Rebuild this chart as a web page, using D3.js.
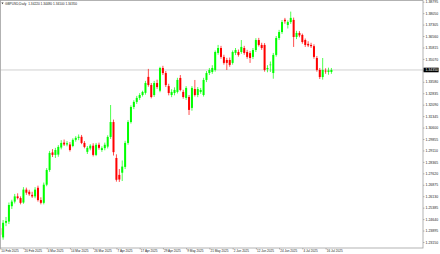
<!DOCTYPE html>
<html>
<head>
<meta charset="utf-8">
<script src="https://cdn.jsdelivr.net/npm/d3@7"></script>
<style>
  body { margin: 0; background: #fff; }
  svg { display: block; font-family: "Liberation Sans", Arial, sans-serif; }
</style>
</head>
<body>
<svg id="chart" width="440" height="254"></svg>
<script>
"use strict";

const SYMBOL = "GBPUSD,Daily";
const FIRST_DAY = "2025-02-10";
const LAST_DAY = "2025-07-18";

const opens = [1.2405, 1.2345, 1.2440, 1.2448, 1.2548, 1.2578, 1.2612, 1.2601, 1.2572, 1.2656,
    1.2642, 1.2622, 1.2612, 1.2668, 1.2588, 1.2570, 1.2688, 1.2784, 1.2898, 1.2882,
    1.2884, 1.2930, 1.2962, 1.2950, 1.2950, 1.2940, 1.2980, 1.2993, 1.3000, 1.2960,
    1.2902, 1.2924, 1.2942, 1.2882, 1.2948, 1.2914, 1.2926, 1.2936, 1.2999, 1.3096,
    1.2862, 1.2752, 1.2766, 1.2804, 1.2960, 1.3096, 1.3194, 1.3227, 1.3253, 1.3272,
    1.3286, 1.3390, 1.3337, 1.3272, 1.3350, 1.3300, 1.3448, 1.3415, 1.3330, 1.3272,
    1.3285, 1.3292, 1.3383, 1.3292, 1.3253, 1.3259, 1.3188, 1.3311, 1.3272, 1.3292,
    1.3272, 1.3370, 1.3415, 1.3422, 1.3435, 1.3546, 1.3578, 1.3520, 1.3500, 1.3500,
    1.3481, 1.3546, 1.3552, 1.3552, 1.3578, 1.3552, 1.3545, 1.3520, 1.3565, 1.3630,
    1.3598, 1.3598, 1.3440, 1.3466, 1.3415, 1.3533, 1.3643, 1.3682, 1.3762, 1.3728,
    1.3747, 1.3761, 1.3650, 1.3676, 1.3663, 1.3630, 1.3605, 1.3598, 1.3590, 1.3513,
    1.3435, 1.3389, 1.3430, 1.3422, 1.3422];
const highs = [1.2432, 1.2458, 1.2478, 1.2572, 1.2590, 1.2628, 1.2632, 1.2612, 1.2672, 1.2669,
    1.2655, 1.2642, 1.2672, 1.2682, 1.2606, 1.2702, 1.2796, 1.2908, 1.2920, 1.2928,
    1.2946, 1.2978, 1.2982, 1.2972, 1.2966, 1.2990, 1.3004, 1.3015, 1.3012, 1.2972,
    1.2940, 1.2952, 1.2958, 1.2960, 1.2962, 1.2938, 1.2962, 1.3010, 1.3207, 1.3112,
    1.2886, 1.2790, 1.2846, 1.2974, 1.3108, 1.3205, 1.3238, 1.3266, 1.3284, 1.3300,
    1.3364, 1.3442, 1.3350, 1.3364, 1.3372, 1.3456, 1.3462, 1.3428, 1.3345, 1.3310,
    1.3322, 1.3384, 1.3402, 1.3306, 1.3330, 1.3272, 1.3330, 1.3370, 1.3324, 1.3318,
    1.3384, 1.3428, 1.3448, 1.3466, 1.3562, 1.3598, 1.3592, 1.3534, 1.3514, 1.3516,
    1.3562, 1.3578, 1.3568, 1.3630, 1.3592, 1.3566, 1.3558, 1.3578, 1.3642, 1.3644,
    1.3612, 1.3610, 1.3466, 1.3490, 1.3546, 1.3656, 1.3696, 1.3760, 1.3774, 1.3758,
    1.3815, 1.3776, 1.3690, 1.3688, 1.3672, 1.3640, 1.3622, 1.3612, 1.3602, 1.3526,
    1.3448, 1.3513, 1.3446, 1.3450, 1.3448];
const lows = [1.2333, 1.2330, 1.2418, 1.2432, 1.2530, 1.2566, 1.2592, 1.2560, 1.2564, 1.2622,
    1.2616, 1.2602, 1.2600, 1.2578, 1.2560, 1.2560, 1.2678, 1.2772, 1.2868, 1.2862,
    1.2870, 1.2918, 1.2940, 1.2938, 1.2904, 1.2932, 1.2968, 1.2978, 1.2952, 1.2925,
    1.2888, 1.2912, 1.2872, 1.2874, 1.2916, 1.2902, 1.2912, 1.2924, 1.2986, 1.2878,
    1.2708, 1.2706, 1.2712, 1.2790, 1.2948, 1.3086, 1.3180, 1.3214, 1.3240, 1.3262,
    1.3274, 1.3326, 1.3250, 1.3260, 1.3312, 1.3290, 1.3402, 1.3324, 1.3270, 1.3258,
    1.3270, 1.3282, 1.3296, 1.3248, 1.3240, 1.3142, 1.3170, 1.3262, 1.3258, 1.3280,
    1.3262, 1.3356, 1.3402, 1.3410, 1.3424, 1.3534, 1.3508, 1.3470, 1.3435, 1.3456,
    1.3470, 1.3532, 1.3522, 1.3540, 1.3534, 1.3508, 1.3481, 1.3506, 1.3552, 1.3588,
    1.3566, 1.3424, 1.3420, 1.3422, 1.3378, 1.3522, 1.3630, 1.3670, 1.3736, 1.3705,
    1.3735, 1.3585, 1.3636, 1.3648, 1.3606, 1.3585, 1.3584, 1.3578, 1.3508, 1.3424,
    1.3376, 1.3372, 1.3410, 1.3404, 1.3410];
const closes = [1.2362, 1.2440, 1.2452, 1.2556, 1.2578, 1.2612, 1.2601, 1.2570, 1.2656, 1.2636,
    1.2626, 1.2612, 1.2656, 1.2588, 1.2570, 1.2688, 1.2784, 1.2895, 1.2882, 1.2914,
    1.2934, 1.2960, 1.2950, 1.2958, 1.2914, 1.2980, 1.2993, 1.3000, 1.2960, 1.2934,
    1.2928, 1.2942, 1.2882, 1.2948, 1.2928, 1.2926, 1.2948, 1.2999, 1.3096, 1.2900,
    1.2720, 1.2722, 1.2806, 1.2960, 1.3096, 1.3194, 1.3227, 1.3253, 1.3272, 1.3292,
    1.3350, 1.3337, 1.3259, 1.3350, 1.3324, 1.3448, 1.3415, 1.3337, 1.3285, 1.3292,
    1.3305, 1.3370, 1.3305, 1.3259, 1.3318, 1.3175, 1.3318, 1.3272, 1.3311, 1.3305,
    1.3370, 1.3415, 1.3435, 1.3448, 1.3552, 1.3578, 1.3520, 1.3481, 1.3481, 1.3468,
    1.3552, 1.3565, 1.3533, 1.3585, 1.3546, 1.3520, 1.3513, 1.3565, 1.3630, 1.3598,
    1.3578, 1.3435, 1.3448, 1.3470, 1.3533, 1.3643, 1.3682, 1.3747, 1.3752, 1.3747,
    1.3774, 1.3650, 1.3676, 1.3660, 1.3617, 1.3598, 1.3595, 1.3590, 1.3520, 1.3435,
    1.3389, 1.3435, 1.3425, 1.3432, 1.3435];

const priceTicks = [1.38795, 1.38050, 1.37305, 1.36560, 1.35815, 1.35070, 1.34325, 1.33580,
    1.32835, 1.32090, 1.31345, 1.30600, 1.29855, 1.29110, 1.28365, 1.27620, 1.26875,
    1.26130, 1.25385, 1.24640, 1.23895, 1.23150];
const dateTicks = ["2025-02-10", "2025-02-20", "2025-03-04", "2025-03-14", "2025-03-26",
    "2025-04-07", "2025-04-17", "2025-04-29", "2025-05-09", "2025-05-21", "2025-06-02",
    "2025-06-12", "2025-06-24", "2025-07-04", "2025-07-16"];

const BULL = "#00ff00";
const BEAR = "#ff0000";
const plot = { left: 0.5, right: 423, top: 0.5, bottom: 248 };

const parseDay = d3.timeParse("%Y-%m-%d");
const fmtKey = d3.timeFormat("%Y-%m-%d");
const fmtLabel = d3.timeFormat("%-d %b %Y");
const fmtPrice = d3.format(".5f");

function tradingDays() {
    let end = d3.timeDay.offset(parseDay(LAST_DAY), 1);
    return d3.timeDay.range(parseDay(FIRST_DAY), end)
        .filter(d => d.getDay() != 0 && d.getDay() != 6)
        .map(fmtKey);
}

function draw() {
    const svg = d3.select("#chart");
    let days = tradingDays();
    let candles = days.slice(0, closes.length).map((d, i) => ({
        day: d, o: opens[i], h: highs[i], l: lows[i], c: closes[i]
    }));

    let x = d3.scalePoint().domain(days).range([0.2, 331.4]);
    let y = d3.scaleLinear()
        .domain([priceTicks[priceTicks.length - 1], priceTicks[0]])
        .range([242, 1.7]);

    svg.append("rect")
        .attr("width", 440).attr("height", 254).attr("fill", "#fff");

    svg.append("clipPath").attr("id", "plot-clip")
        .append("rect")
        .attr("x", plot.left + 0.5).attr("y", plot.top)
        .attr("width", plot.right - plot.left - 0.5).attr("height", plot.bottom - plot.top);

    // current price line
    let last = candles[candles.length - 1];
    svg.append("line")
        .attr("x1", plot.left).attr("x2", plot.right)
        .attr("y1", y(last.c)).attr("y2", y(last.c))
        .attr("stroke", "#c4c4c4").attr("stroke-width", 0.8);

    let g = svg.append("g").attr("clip-path", "url(#plot-clip)");
    let colorOf = d => (d.c >= d.o ? BULL : BEAR);

    g.selectAll("line.wick")
        .data(candles)
        .join("line")
        .attr("class", "wick")
        .attr("x1", d => x(d.day)).attr("x2", d => x(d.day))
        .attr("y1", d => y(d.h)).attr("y2", d => y(d.l))
        .attr("stroke", colorOf).attr("stroke-width", 0.7);

    g.selectAll("rect.body")
        .data(candles)
        .join("rect")
        .attr("class", "body")
        .attr("x", d => x(d.day) - 1)
        .attr("width", 2)
        .attr("y", d => y(Math.max(d.o, d.c)))
        .attr("height", d => Math.max(0.6, Math.abs(y(d.o) - y(d.c))))
        .attr("fill", colorOf);

    // frame
    svg.append("rect")
        .attr("x", plot.left).attr("y", plot.top)
        .attr("width", plot.right - plot.left).attr("height", plot.bottom - plot.top)
        .attr("fill", "none").attr("stroke", "#a0a0a0").attr("stroke-width", 0.8);

    // price axis
    let yAxis = svg.append("g")
        .attr("transform", `translate(${plot.right}, 0)`)
        .call(d3.axisRight(y).tickValues(priceTicks).tickSize(1.5).tickPadding(1).tickFormat(fmtPrice));
    yAxis.select(".domain").remove();
    yAxis.selectAll("line").attr("stroke", "#777").attr("stroke-width", 0.5);
    yAxis.selectAll("text")
        .attr("font-size", "3.5px").attr("font-family", "Liberation Sans, Arial, sans-serif")
        .attr("fill", "#222");

    // date axis
    let xAxis = svg.append("g")
        .attr("transform", `translate(0, ${plot.bottom})`)
        .call(d3.axisBottom(x).tickValues(dateTicks).tickSize(1.5).tickPadding(0.6)
            .tickFormat(d => fmtLabel(parseDay(d))));
    xAxis.select(".domain").remove();
    xAxis.selectAll("line").attr("stroke", "#777").attr("stroke-width", 0.5);
    xAxis.selectAll("text")
        .attr("text-anchor", "start").attr("dx", "0.6")
        .attr("font-size", "3.1px").attr("font-family", "Liberation Sans, Arial, sans-serif")
        .attr("fill", "#222");

    // last price box
    let py = y(last.c);
    svg.append("rect")
        .attr("x", plot.right + 0.6).attr("y", py - 2.3)
        .attr("width", 15).attr("height", 4.6)
        .attr("fill", "#000");
    svg.append("text")
        .attr("x", plot.right + 2.4).attr("y", py + 1.25)
        .attr("font-size", "3.5px").attr("fill", "#fff")
        .text(fmtPrice(last.c));

    // header
    svg.append("path")
        .attr("d", "M1.4,2.4 L3.6,2.4 L2.5,4.2 Z")
        .attr("fill", "#333");
    svg.append("text")
        .attr("x", 5).attr("y", 4.6)
        .attr("font-size", "3.2px").attr("fill", "#222")
        .style("white-space", "pre")
        .text(`${SYMBOL}  ${fmtPrice(last.o)} ${fmtPrice(last.h)} ${fmtPrice(last.l)} ${fmtPrice(last.c)}`);
}

window.addEventListener("load", draw);
</script>
</body>
</html>
